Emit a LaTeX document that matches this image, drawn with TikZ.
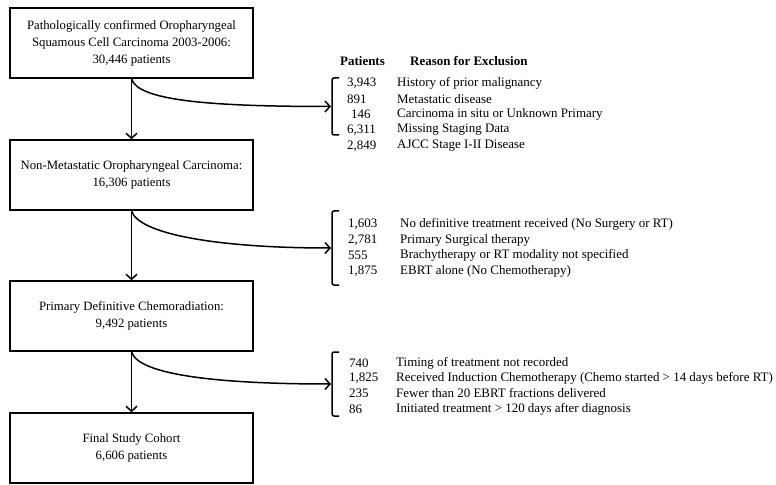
\documentclass[tikz,border=0pt]{standalone}
\usepackage{fontspec}
\setmainfont{Liberation Serif}
\usetikzlibrary{arrows.meta}
\begin{document}
\begin{tikzpicture}[x=1bp,y=-1bp,
  box/.style={draw,line width=1.5bp,minimum width=243bp,minimum height=70bp,inner sep=1bp,align=center,font=\fontsize{12.8}{17}\selectfont},
  arr/.style={line width=1.5bp,-{Straight Barb[length=5bp,width=11bp,line width=1.5bp]}},
  brk/.style={line width=1.5bp,rounded corners=2bp},
  txt/.style={anchor=west,inner sep=0pt,font=\fontsize{13}{15}\selectfont},
  hdr/.style={anchor=west,inner sep=0pt,font=\fontsize{13}{15}\selectfont\bfseries}]
\useasboundingbox (0,0) rectangle (776,485);
% boxes
\node[box] (n1) at (131.5,43) {Pathologically confirmed Oropharyngeal\\Squamous Cell Carcinoma 2003-2006:\\30,446 patients};
\node[box] (n2) at (131.5,175) {Non-Metastatic Oropharyngeal Carcinoma:\\16,306 patients};
\node[box] (n3) at (131.5,316) {Primary Definitive Chemoradiation:\\9,492 patients};
\node[box] (n4) at (131.5,448) {Final Study Cohort\\6,606 patients};
\draw[arr] (n1) -- (n2);
\draw[arr] (n2) -- (n3);
\draw[arr] (n3) -- (n4);
% brackets
\coordinate (b1) at (331,106.5);
\coordinate (b2) at (331,248);
\coordinate (b3) at (331,384);
\draw[brk] (339,78) -- (332,78) -- (332,135) -- (339,135);
\draw[brk] (339,211) -- (332,211) -- (332,285) -- (339,285);
\draw[brk] (339,352) -- (332,352) -- (332,416) -- (339,416);
\draw[arr] (n1.south) .. controls +(6,22) and +(-120,0) .. (b1);
\draw[arr] (n2.south) .. controls +(6,22) and +(-120,0) .. (b2);
\draw[arr] (n3.south) .. controls +(6,22) and +(-120,0) .. (b3);
% headers
\node[hdr] (hp) at (340,61) {Patients};
\node[hdr] (hr) at (410,61) {Reason for Exclusion};
% list 1
\node[txt] (a1) at (347,83) {3,943};   \node[txt] (t1) at (397,83) {History of prior malignancy};
\node[txt] (a2) at (347,99) {891};     \node[txt] (t2) at (397,99) {Metastatic disease};
\node[txt] (a3) at (351,114.5) {146};  \node[txt] (t3) at (397,114.5) {Carcinoma in situ or Unknown Primary};
\node[txt] (a4) at (347,130) {6,311};  \node[txt] (t4) at (397,130) {Missing Staging Data};
\node[txt] (a5) at (347,146) {2,849};  \node[txt] (t5) at (397,146) {AJCC Stage I-II Disease};
% list 2
\node[txt] (c1) at (348,224) {1,603};  \node[txt] (u1) at (400,224) {No definitive treatment received (No Surgery or RT)};
\node[txt] (c2) at (348,240) {2,781};  \node[txt] (u2) at (400,240) {Primary Surgical therapy};
\node[txt] (c3) at (348,255.5) {555};  \node[txt] (u3) at (400,255.5) {Brachytherapy or RT modality not specified};
\node[txt] (c4) at (348,271) {1,875};  \node[txt] (u4) at (400,271) {EBRT alone (No Chemotherapy)};
% list 3
\node[txt] (d1) at (349,363) {740};    \node[txt] (v1) at (396,363) {Timing of treatment not recorded};
\node[txt] (d2) at (349,378) {1,825};  \node[txt] (v2) at (396,378) {Received Induction Chemotherapy (Chemo started > 14 days before RT)};
\node[txt] (d3) at (349,393.5) {235};  \node[txt] (v3) at (396,393.5) {Fewer than 20 EBRT fractions delivered};
\node[txt] (d4) at (349,409) {86};     \node[txt] (v4) at (396,409) {Initiated treatment > 120 days after diagnosis};
\end{tikzpicture}
\end{document}
